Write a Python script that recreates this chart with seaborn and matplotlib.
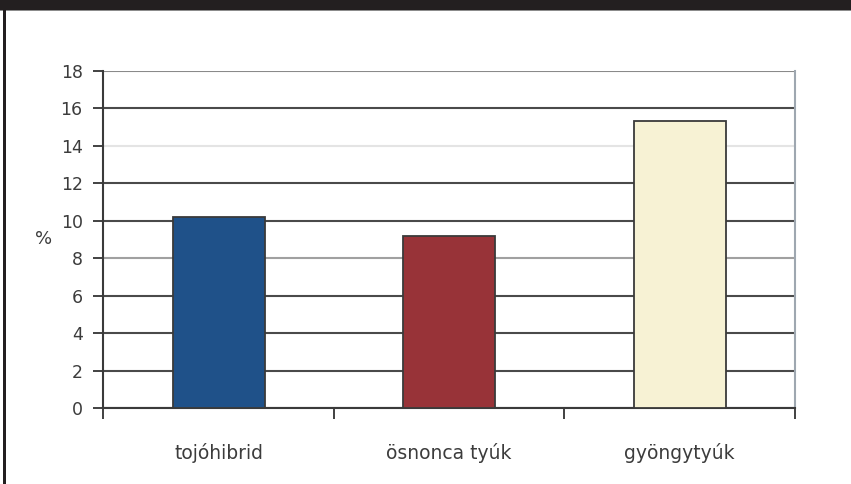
import matplotlib
matplotlib.use("Agg")
import matplotlib.pyplot as plt
import matplotlib.patches as mpatches
from matplotlib.ticker import FixedLocator, NullFormatter, FixedFormatter
import seaborn as sns
import pandas as pd

# Share (%) by poultry type
categories = ["tojóhibrid", "ösnonca tyúk", "gyöngytyúk"]
values = [10.2, 9.2, 15.3]
bar_colors = ["#1f5189", "#983338", "#f7f2d4"]
y_ticks = [0, 2, 4, 6, 8, 10, 12, 14, 16, 18]

sns.set_theme(style="white")
plt.rcParams["font.family"] = ["DejaVu Sans"]

df = pd.DataFrame({"kategoria": categories, "ertek": values})

fig = plt.figure(figsize=(8.51, 4.84), dpi=100)
fig.patch.set_facecolor("white")
ax = fig.add_axes([0.1216, 0.1564, 0.9342 - 0.1216, 0.854 - 0.1564])

sns.barplot(data=df, x="kategoria", y="ertek", hue="kategoria",
            palette=bar_colors, saturation=1, legend=False, width=0.40,
            edgecolor="#3a3a3a", linewidth=1.3, ax=ax, zorder=3)

ax.set_ylim(0, 18)
ax.set_xlim(-0.5, 2.5)
ax.set_xlabel("")
ax.set_ylabel("%", rotation=0, fontsize=13, color="#3c3c3c", labelpad=12,
              va="center")

# horizontal gridlines behind the bars
ax.set_yticks(y_ticks)
ax.set_yticklabels([str(t) for t in y_ticks])
ax.yaxis.grid(True, color="#4a4a4a", linewidth=1.5)
ax.set_axisbelow(True)
grid_shades = {8: "#a0a0a0", 14: "#e4e4e4", 18: "#8a8a8a"}
for tick_val, gl in zip(y_ticks, ax.get_ygridlines()):
    if tick_val in grid_shades:
        gl.set_color(grid_shades[tick_val])
    gl.set_zorder(1)

ax.tick_params(axis="y", which="major", direction="out", length=7, width=1.3,
               color="#333333", labelsize=12.5, labelcolor="#3c3c3c", pad=8,
               left=True)

# category boundaries carry the tick marks, names sit at the centres
ax.xaxis.set_major_locator(FixedLocator([-0.5, 0.5, 1.5, 2.5]))
ax.xaxis.set_major_formatter(NullFormatter())
ax.xaxis.set_minor_locator(FixedLocator([0, 1, 2]))
ax.xaxis.set_minor_formatter(FixedFormatter(categories))
ax.tick_params(axis="x", which="major", direction="out", length=8, width=1.3,
               color="#333333", bottom=True)
ax.tick_params(axis="x", which="minor", length=0, labelsize=13.5,
               labelcolor="#3c3c3c", pad=25, bottom=True)

for side in ["left", "bottom"]:
    ax.spines[side].set_color("#3a3a3a")
    ax.spines[side].set_linewidth(1.5)
ax.spines["top"].set_visible(False)
ax.spines["right"].set_color("#9ea7b0")
ax.spines["right"].set_linewidth(1.5)

# page furniture: dark header band and left rule
fig.add_artist(mpatches.Rectangle((0, 1 - 10 / 484), 1, 10 / 484,
                                  transform=fig.transFigure,
                                  facecolor="#231f20", edgecolor="none"))
fig.add_artist(mpatches.Rectangle((0, 1 - 11 / 484), 1, 1 / 484,
                                  transform=fig.transFigure,
                                  facecolor="#8c8c8c", edgecolor="none"))
fig.add_artist(mpatches.Rectangle((3 / 851, 0), 2.5 / 851, 1 - 10 / 484,
                                  transform=fig.transFigure,
                                  facecolor="#231f20", edgecolor="none"))

fig.savefig("out.png", dpi=100, facecolor="white")
